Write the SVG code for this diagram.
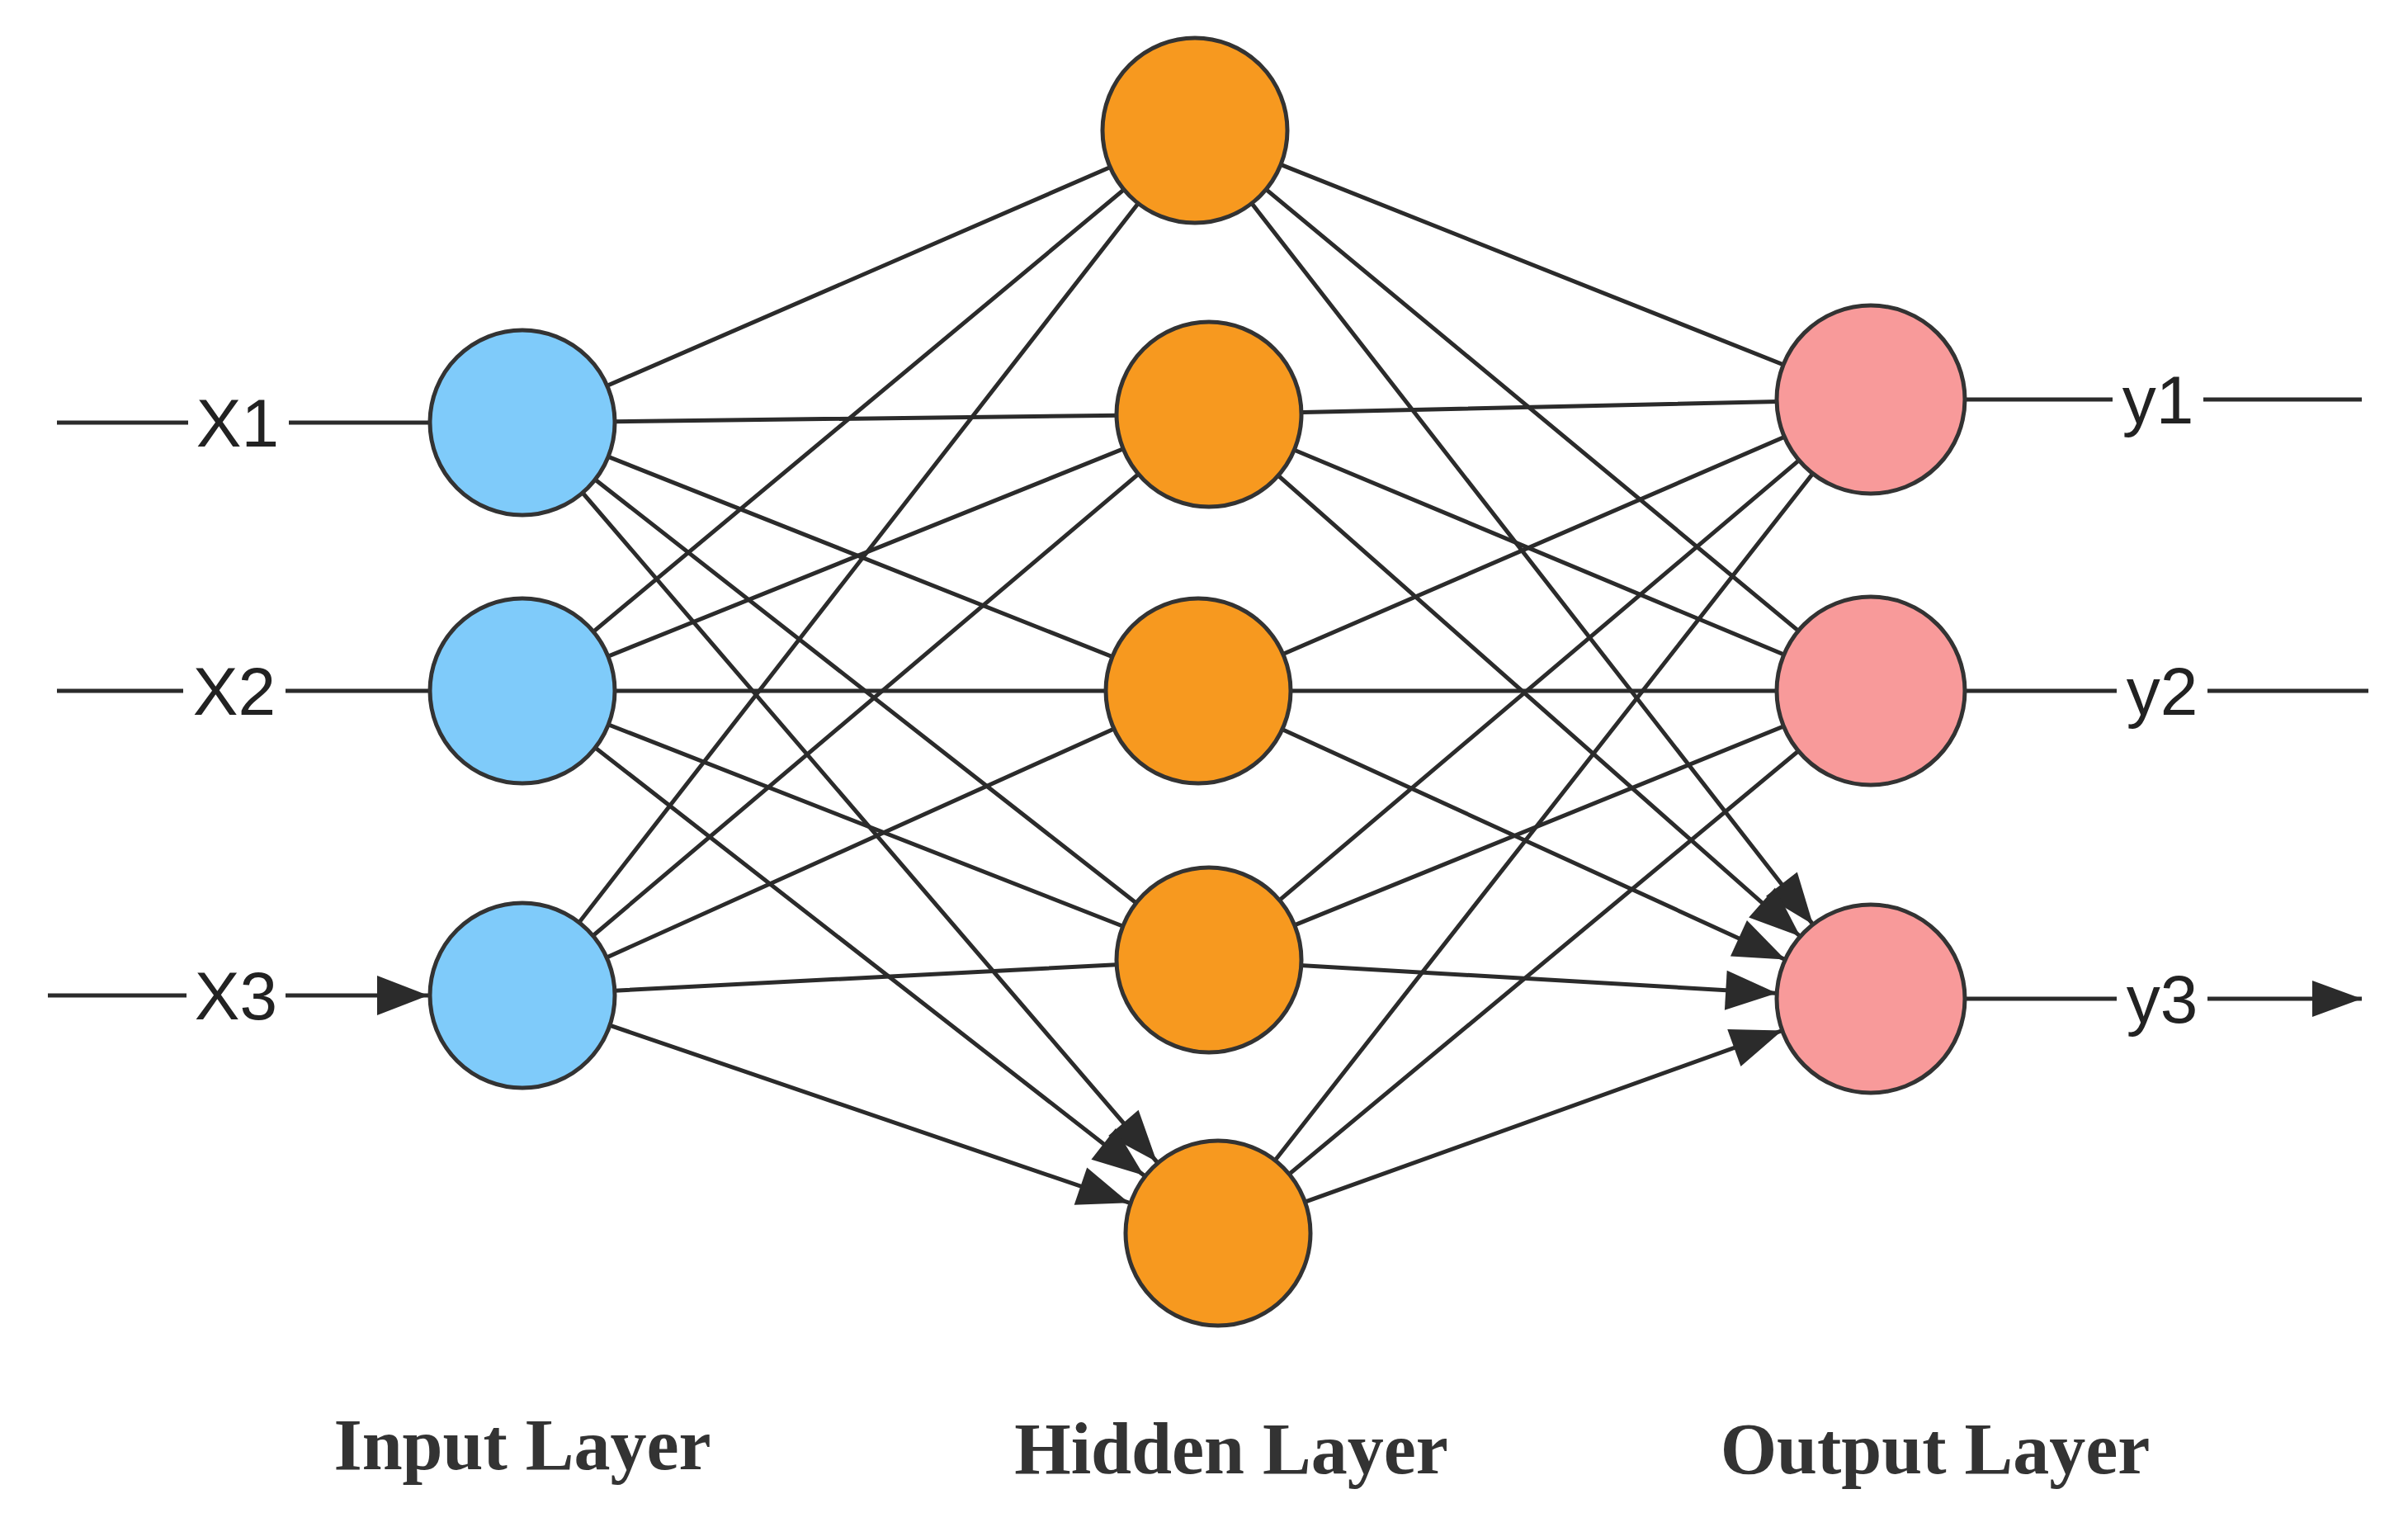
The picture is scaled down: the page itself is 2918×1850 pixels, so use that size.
<svg xmlns="http://www.w3.org/2000/svg" width="2918" height="1850" viewBox="0 0 2918 1850">
<style>
.e{stroke:#2b2b2b;stroke-width:5;fill:none;marker-end:url(#a)}
.f{stroke:#2b2b2b;stroke-width:5;fill:none}
.g{stroke:#2b2b2b;stroke-width:5;fill:none;marker-end:url(#b)}
.n{stroke:#333;stroke-width:5}
.in{fill:#7fcbfa}.hd{fill:#f7991f}.out{fill:#f89a9a}
.t{font-family:"Liberation Sans",Arial,sans-serif;font-size:82px;fill:#222;text-anchor:middle;dominant-baseline:central}
.l{font-family:"Liberation Serif","Times New Roman",serif;font-weight:bold;font-size:88px;fill:#333;text-anchor:middle}
</style>
<defs>
<marker id="a" markerUnits="userSpaceOnUse" viewBox="-180 -30 180 60" markerWidth="180" markerHeight="60" refX="0" refY="0" orient="auto" overflow="visible"><path d="M-114 0 L-176 -24 L-176 24 Z" fill="#2b2b2b"/></marker>
<marker id="b" markerUnits="userSpaceOnUse" viewBox="-70 -30 70 60" markerWidth="70" markerHeight="60" refX="0" refY="0" orient="auto" overflow="visible"><path d="M0 0 L-60 -22 L-60 22 Z" fill="#2b2b2b"/></marker>
</defs>
<g id="connectors">
<path class="f" d="M69 512H228M69 837H222M58 1206H226"/>
<path class="e" d="M350 512H633M346 837H633M346 1206H633"/>
<path class="f" d="M2267 484H2560M2267 837H2565M2267 1210H2565"/>
<path class="g" d="M2670 484H2862M2675 837H2870M2675 1210H2862"/>
<path class="e" d="M633 512L1448 158M633 512L1465 502M633 512L1452 837M633 512L1465 1163M633 512L1476 1494"/>
<path class="e" d="M633 837L1448 158M633 837L1465 502M633 837L1452 837M633 837L1465 1163M633 837L1476 1494"/>
<path class="e" d="M633 1206L1448 158M633 1206L1465 502M633 1206L1452 837M633 1206L1465 1163M633 1206L1476 1494"/>
<path class="e" d="M1448 158L2267 484M1448 158L2267 837M1448 158L2267 1210"/>
<path class="e" d="M1465 502L2267 484M1465 502L2267 837M1465 502L2267 1210"/>
<path class="e" d="M1452 837L2267 484M1452 837L2267 837M1452 837L2267 1210"/>
<path class="e" d="M1465 1163L2267 484M1465 1163L2267 837M1465 1163L2267 1210"/>
<path class="e" d="M1476 1494L2267 484M1476 1494L2267 837M1476 1494L2267 1210"/>
</g>
<g id="x1"><circle class="n in" cx="633" cy="512" r="112"/><text class="t" x="288" y="512">X1</text></g>
<g id="x2"><circle class="n in" cx="633" cy="837" r="112"/><text class="t" x="284" y="837">X2</text></g>
<g id="x3"><circle class="n in" cx="633" cy="1206" r="112"/><text class="t" x="286" y="1206">X3</text></g>
<g id="h1"><circle class="n hd" cx="1448" cy="158" r="112"/></g>
<g id="h2"><circle class="n hd" cx="1465" cy="502" r="112"/></g>
<g id="h3"><circle class="n hd" cx="1452" cy="837" r="112"/></g>
<g id="h4"><circle class="n hd" cx="1465" cy="1163" r="112"/></g>
<g id="h5"><circle class="n hd" cx="1476" cy="1494" r="112"/></g>
<g id="y1"><circle class="n out" cx="2267" cy="484" r="114"/><text class="t" x="2615" y="484">y1</text></g>
<g id="y2"><circle class="n out" cx="2267" cy="837" r="114"/><text class="t" x="2620" y="837">y2</text></g>
<g id="y3"><circle class="n out" cx="2267" cy="1210" r="114"/><text class="t" x="2620" y="1210">y3</text></g>
<g id="labels">
<text class="l" x="633" y="1780">Input Layer</text>
<text class="l" x="1492" y="1785">Hidden Layer</text>
<text class="l" x="2345" y="1785">Output Layer</text>
</g>
</svg>
